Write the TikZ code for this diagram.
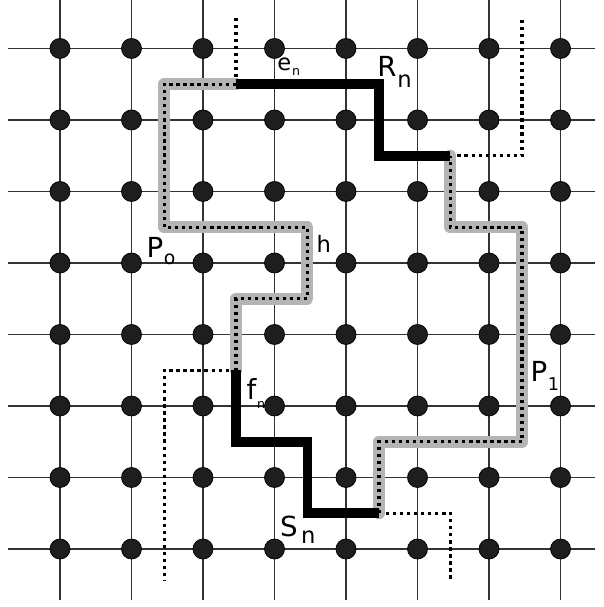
\documentclass[tikz,border=0pt]{standalone}
\usepackage{fontspec}
\setmainfont{DejaVu Sans}
\usepackage{tikz}
\usetikzlibrary{calc}
\definecolor{DotGray}{RGB}{30,30,30}
\definecolor{GridGray}{RGB}{50,50,55}
\definecolor{HaloGray}{RGB}{180,180,180}
\tikzset{
  gridline/.style={draw=GridGray,line width=0.6pt},
  site/.style={circle,fill=DotGray,draw=black,line width=0.3pt,
    minimum size=0.28cm,inner sep=0pt},
  halo/.style={draw=HaloGray,line width=4.8pt,line join=round,line cap=round},
  dotline/.style={draw=black,line width=1.3pt,dash pattern=on 1.3pt off 1.5pt},
  cutline/.style={draw=black,line width=3.8pt,line join=miter},
  lbl/.style={anchor=base west,inner sep=0pt,outer sep=0pt}
}
\newcommand{\lab}[5]{{\fontsize{#2}{#2}\selectfont #1}\kern0.3pt\raisebox{-#5}{\fontsize{#4}{#4}\selectfont #3}}

\begin{document}
\begin{tikzpicture}[x=1cm,y=1cm]
  \useasboundingbox (-0.839,-0.811) rectangle (7.594,7.678);
  % lattice
  \foreach \k in {0,...,7}{
    \draw[gridline] (-0.73,\k) -- (7.48,\k);
    \draw[gridline] (\k,-0.71) -- (\k,7.678);}
  \foreach \i in {0,...,7}{
    \foreach \j in {0,...,7}{
      \node[site] (v\i\j) at (\i,\j) {};}}
  % dual paths
  \begin{scope}[xshift=-0.04cm]
    \coordinate (A) at (2.5,6.5);
    \coordinate (B) at (5.5,5.5);
    \coordinate (C) at (2.5,2.5);
    \coordinate (D) at (4.5,0.5);
    % open ends
    \draw[dotline] (A) -- (2.5,7.44);
    \draw[dotline] (B) -- (6.5,5.5) -- (6.5,7.44);
    \draw[dotline] (C) -- (1.5,2.5) -- (1.5,-0.45);
    \draw[dotline] (D) -- (5.5,0.5) -- (5.5,-0.45);
    % P_o and P_1
    \draw[halo] (A) -- (1.5,6.5) -- (1.5,4.5) -- (3.5,4.5) -- (3.5,3.5)
      -- (2.5,3.5) -- (C);
    \draw[halo] (D) -- (4.5,1.5) -- (6.5,1.5) -- (6.5,4.5) -- (5.5,4.5) -- (B);
    \draw[dotline] (A) -- (1.5,6.5) -- (1.5,4.5) -- (3.5,4.5) -- (3.5,3.5)
      -- (2.5,3.5) -- (C);
    \draw[dotline] (D) -- (4.5,1.5) -- (6.5,1.5) -- (6.5,4.5) -- (5.5,4.5) -- (B);
    % R_n and S_n
    \draw[cutline] (B) -- (4.5,5.5) -- (4.5,6.5) -- (A);
    \draw[cutline] (C) -- (2.5,1.5) -- (3.5,1.5) -- (3.5,0.5) -- (D);
  \end{scope}
  % labels
  \node[lbl] (en) at (3.04,6.685) {\lab{e}{9}{n}{5}{1.6pt}};
  \node[lbl] (Rn) at (4.44,6.601) {\lab{R}{11}{n}{9}{4pt}};
  \node[lbl] (Po) at (1.21,4.07) {\lab{P}{11}{o}{7.5}{2.4pt}};
  \node[lbl] (h) at (3.59,4.14) {\fontsize{9}{9}\selectfont h};
  \node[lbl] (fn) at (2.61,2.084) {\lab{f}{11}{n}{5}{3.2pt}};
  \node[lbl] (P1) at (6.58,2.336) {\lab{P}{11}{1}{7}{3.2pt}};
  \node[lbl] (Sn) at (3.08,0.168) {\lab{S}{11}{\kern1pt n}{9}{2.4pt}};
\end{tikzpicture}
\end{document}
